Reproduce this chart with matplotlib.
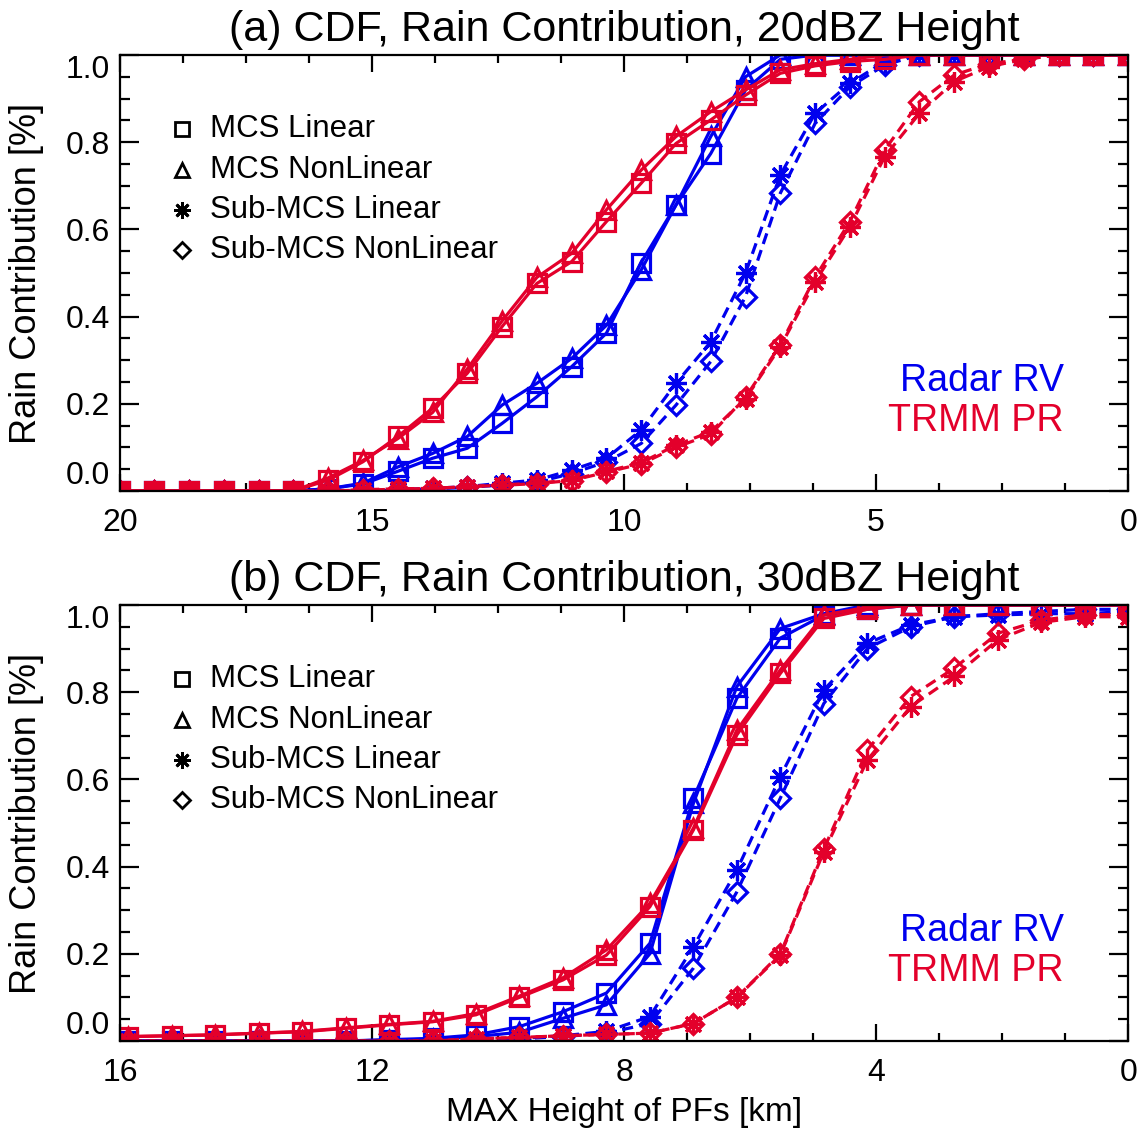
import matplotlib
matplotlib.use("Agg")
import matplotlib.pyplot as plt
from matplotlib.ticker import MultipleLocator

plt.rcParams["font.family"] = ["Liberation Sans", "DejaVu Sans"]

# Hoehen-Bins (km)
hoehe_a = [0.0, 0.69, 1.38, 2.07, 2.76, 3.45, 4.14, 4.83, 5.52, 6.21,
           6.90, 7.59, 8.28, 8.97, 9.66, 10.35, 11.04, 11.73, 12.42, 13.11,
           13.80, 14.49, 15.18, 15.87, 16.56, 17.25, 17.94, 18.63, 19.32, 20.0]
hoehe_b = [0.0, 0.69, 1.38, 2.07, 2.76, 3.45, 4.14, 4.83, 5.52, 6.21,
           6.90, 7.59, 8.28, 8.97, 9.66, 10.35, 11.04, 11.73, 12.42, 13.11,
           13.80, 14.49, 15.18, 15.87]

# (a) 20 dBZ
a_rv_mcs_lin = [1, 1, 1, 1, 1, 1, 1, 1, 1, 1, 0.99, 0.92, 0.774, 0.656, 0.524,
                0.362, 0.285, 0.216, 0.155, 0.098, 0.075, 0.045, 0.016, 0.005,
                0, 0, 0, 0, 0, 0]
a_rv_mcs_non = [1, 1, 1, 1, 1, 1, 1, 1, 1, 1, 1, 0.95, 0.813, 0.656, 0.507,
                0.38, 0.304, 0.247, 0.197, 0.125, 0.086, 0.055, 0.018, 0.005,
                0, 0, 0, 0, 0, 0]
a_rv_sub_lin = [1, 1, 1, 1, 1, 1, 1, 0.985, 0.935, 0.866, 0.725, 0.5, 0.342,
                0.247, 0.14, 0.075, 0.048, 0.025, 0.018, 0.01, 0.006, 0.003,
                0, 0, 0, 0, 0, 0, 0, 0]
a_rv_sub_non = [1, 1, 1, 1, 1, 1, 1, 0.977, 0.927, 0.843, 0.683, 0.446, 0.297,
                0.197, 0.109, 0.067, 0.04, 0.02, 0.014, 0.008, 0.005, 0.002,
                0, 0, 0, 0, 0, 0, 0, 0]
a_pr_mcs_lin = [1, 1, 1, 1, 1, 1, 1, 0.99, 0.985, 0.975, 0.958, 0.908, 0.851,
                0.797, 0.706, 0.618, 0.526, 0.476, 0.377, 0.27, 0.19, 0.125,
                0.067, 0.025, 0, 0, 0, 0, 0, 0]
a_pr_mcs_non = [1, 1, 1, 1, 1, 1, 1, 1, 0.99, 0.98, 0.966, 0.92, 0.87, 0.813,
                0.736, 0.645, 0.545, 0.49, 0.39, 0.28, 0.18, 0.12, 0.07, 0.03,
                0, 0, 0, 0, 0, 0]
a_pr_sub_lin = [1, 1, 1, 0.99, 0.973, 0.939, 0.866, 0.767, 0.606, 0.48, 0.331,
                0.212, 0.136, 0.105, 0.065, 0.045, 0.025, 0.018, 0.014, 0.01,
                0.006, 0.005, 0.003, 0, 0, 0, 0, 0, 0, 0]
a_pr_sub_non = [1, 1, 1, 0.99, 0.98, 0.954, 0.893, 0.782, 0.618, 0.49, 0.335,
                0.215, 0.13, 0.1, 0.062, 0.043, 0.024, 0.017, 0.013, 0.01,
                0.006, 0.004, 0.002, 0, 0, 0, 0, 0, 0, 0]

# (b) 30 dBZ
b_rv_mcs_lin = [1, 1, 1, 1, 1, 1, 0.99, 0.977, 0.924, 0.786, 0.557, 0.224,
                0.11, 0.067, 0.033, 0.014, 0.006, 0.003, 0, 0, 0, 0, 0, 0]
b_rv_mcs_non = [1, 1, 1, 1, 1, 1, 1, 0.98, 0.946, 0.813, 0.545, 0.2, 0.083,
                0.052, 0.02, 0.01, 0.004, 0.002, 0, 0, 0, 0, 0, 0]
b_rv_sub_lin = [0.985, 0.98, 0.98, 0.977, 0.973, 0.954, 0.912, 0.805, 0.606,
                0.392, 0.216, 0.056, 0.022, 0.012, 0.006, 0.003, 0, 0, 0, 0,
                0, 0, 0, 0]
b_rv_sub_non = [0.99, 0.99, 0.985, 0.98, 0.973, 0.95, 0.9, 0.774, 0.557,
                0.342, 0.167, 0.04, 0.018, 0.01, 0.005, 0, 0, 0, 0, 0, 0, 0,
                0, 0]
b_pr_mcs_lin = [1, 1, 1, 1, 1, 1, 0.99, 0.969, 0.843, 0.702, 0.484, 0.308,
                0.197, 0.14, 0.1, 0.06, 0.044, 0.037, 0.029, 0.021, 0.018,
                0.014, 0.012, 0.01]
b_pr_mcs_non = [1, 1, 1, 1, 1, 1, 0.995, 0.977, 0.851, 0.713, 0.488, 0.316,
                0.209, 0.145, 0.103, 0.063, 0.045, 0.038, 0.03, 0.022, 0.018,
                0.014, 0.012, 0.01]
b_pr_sub_lin = [0.973, 0.973, 0.96, 0.92, 0.836, 0.767, 0.644, 0.434, 0.197,
                0.1, 0.04, 0.018, 0.015, 0.012, 0.008, 0.005, 0, 0, 0, 0, 0,
                0, 0, 0]
b_pr_sub_non = [0.978, 0.978, 0.965, 0.935, 0.855, 0.79, 0.667, 0.44, 0.2,
                0.1, 0.04, 0.018, 0.015, 0.012, 0.008, 0.005, 0, 0, 0, 0, 0,
                0, 0, 0]

blau = "#0000EE"
rot = "#E3002B"
asterisk = (8, 2, 0)

kategorien = ["MCS Linear", "MCS NonLinear", "Sub-MCS Linear", "Sub-MCS NonLinear"]
symbole = ["s", "^", asterisk, "D"]
groessen = [13, 13, 15, 10]
linien = ["-", "-", (0, (3.5, 2)), (0, (3.5, 2))]


def panel(ax, x, reihen, titel, xmax, xmajor, xminor):
    # erst Radar (blau), dann TRMM (rot) darueber
    for farbe, serien in reihen:
        for y, sym, ms, ls in zip(serien, symbole, groessen, linien):
            ax.plot(x, y, color=farbe, linestyle=ls, linewidth=2.3,
                    marker=sym, markersize=ms, markerfacecolor="none",
                    markeredgewidth=2.3, markeredgecolor=farbe)

    ax.set_xlim(xmax, 0)
    ax.set_ylim(0, 1)
    ax.xaxis.set_major_locator(MultipleLocator(xmajor))
    ax.xaxis.set_minor_locator(MultipleLocator(xminor))
    ax.set_yticks([0, 0.2, 0.4, 0.6, 0.8, 1.0])
    ax.set_yticklabels(["0.0", "0.2", "0.4", "0.6", "0.8", "1.0"])
    ax.yaxis.set_minor_locator(MultipleLocator(0.05))

    ax.tick_params(which="both", direction="in", top=True, right=True,
                   width=1.6, labelsize=23)
    ax.tick_params(axis="x", which="major", length=12, pad=12)
    ax.tick_params(axis="x", which="minor", length=6)
    ax.tick_params(axis="y", which="major", length=14, pad=7)
    ax.tick_params(axis="y", which="minor", length=7)
    for s in ax.spines.values():
        s.set_linewidth(1.6)

    labels = ax.get_yticklabels()
    labels[0].set_va("bottom")
    labels[-1].set_va("top")

    ax.set_title(titel, fontsize=31, pad=10)
    ax.set_ylabel("Rain Contribution [%]", fontsize=26)
    ax.yaxis.set_label_coords(-0.075, 0.5)

    # Legende der Symbole
    ly = [0.830, 0.736, 0.644, 0.553]
    for name, sym, ms, yy in zip(kategorien, symbole, groessen, ly):
        ax.plot([0.0615], [yy], transform=ax.transAxes, marker=sym,
                markersize=ms * 0.8, markerfacecolor="none",
                markeredgecolor="black", markeredgewidth=2.0,
                linestyle="none", clip_on=False)
        ax.text(0.089, yy, name, transform=ax.transAxes, fontsize=22.5,
                va="center", ha="left")

    ax.text(0.936, 0.252, "Radar RV", color=blau, fontsize=27,
            transform=ax.transAxes, ha="right", va="center")
    ax.text(0.936, 0.160, "TRMM PR", color=rot, fontsize=27,
            transform=ax.transAxes, ha="right", va="center")


fig = plt.figure(figsize=(11.43, 11.31), dpi=100)
ax1 = fig.add_axes([0.105, 0.5659, 0.882, 0.3855])
ax2 = fig.add_axes([0.105, 0.0796, 0.882, 0.3855])

panel(ax1, hoehe_a,
      [(blau, [a_rv_mcs_lin, a_rv_mcs_non, a_rv_sub_lin, a_rv_sub_non]),
       (rot, [a_pr_mcs_lin, a_pr_mcs_non, a_pr_sub_lin, a_pr_sub_non])],
      "(a) CDF, Rain Contribution, 20dBZ Height", 20, 5, 1.25)

panel(ax2, hoehe_b,
      [(blau, [b_rv_mcs_lin, b_rv_mcs_non, b_rv_sub_lin, b_rv_sub_non]),
       (rot, [b_pr_mcs_lin, b_pr_mcs_non, b_pr_sub_lin, b_pr_sub_non])],
      "(b) CDF, Rain Contribution, 30dBZ Height", 16, 4, 1)

ax2.set_xlabel("MAX Height of PFs [km]", fontsize=24)
ax2.xaxis.set_label_coords(0.5, -0.128)

fig.savefig("out.png", dpi=100)
